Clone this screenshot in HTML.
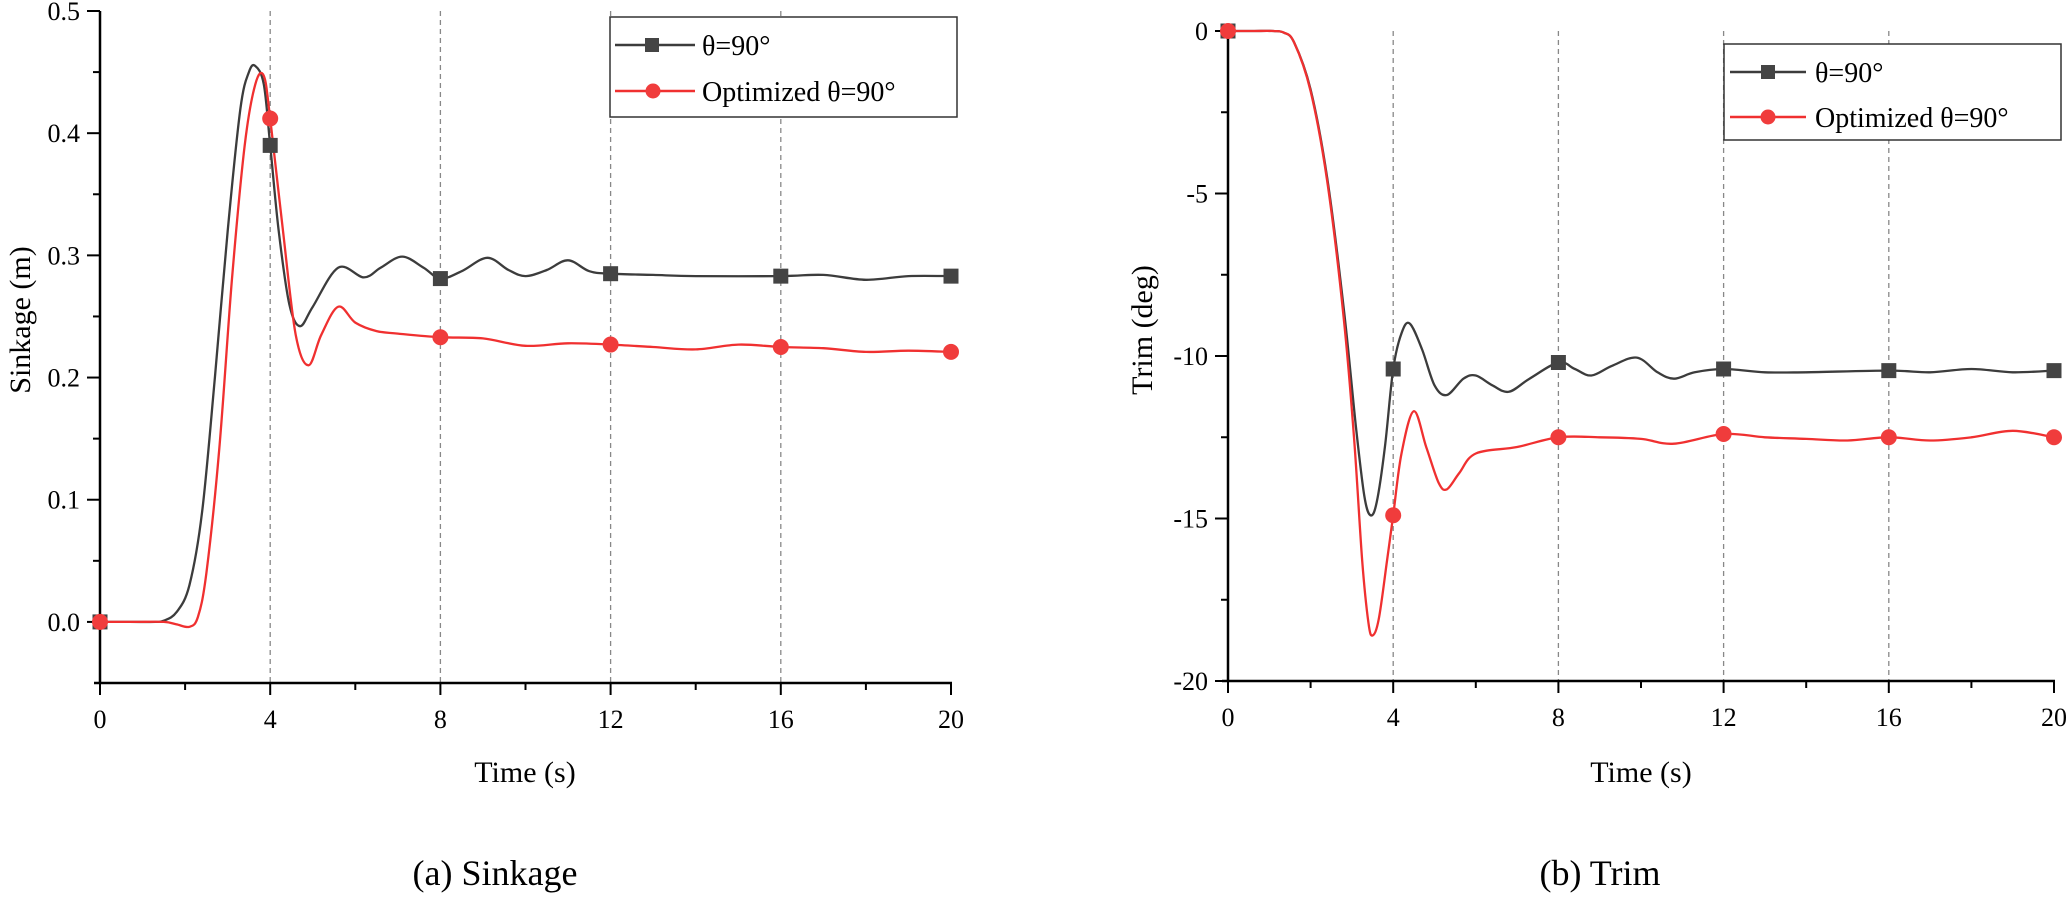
<!DOCTYPE html>
<html><head><meta charset="utf-8"><style>
html,body{margin:0;padding:0;background:#fff;}
svg{display:block;font-family:"Liberation Serif",serif;}
</style></head><body>
<svg id="s" width="2067" height="897" viewBox="0 0 2067 897" xmlns="http://www.w3.org/2000/svg">
<g id="g"></g>
<text x="525" y="782" font-size="30" text-anchor="middle">Time (s)</text>
<text x="495" y="885" font-size="36" text-anchor="middle">(a) Sinkage</text>
<text transform="translate(30,320) rotate(-90)" font-size="30" text-anchor="middle">Sinkage (m)</text>
<text x="1641" y="782" font-size="30" text-anchor="middle">Time (s)</text>
<text x="1600" y="885" font-size="36" text-anchor="middle">(b) Trim</text>
<text transform="translate(1152,330) rotate(-90)" font-size="30" text-anchor="middle">Trim (deg)</text>
<rect x="610" y="17" width="347" height="100" fill="#fff" stroke="#333" stroke-width="1.5"/>
<line x1="615" y1="45" x2="695" y2="45" stroke="#3c3c3c" stroke-width="2.5"/>
<rect x="645" y="38" width="14" height="14" fill="#444"/>
<text x="702" y="55" font-size="28">θ=90°</text>
<line x1="615" y1="91" x2="695" y2="91" stroke="#f03030" stroke-width="2.5"/>
<circle cx="653" cy="91" r="7.5" fill="#f03c3c"/>
<text x="702" y="101" font-size="28">Optimized θ=90°</text>
<rect x="1724" y="44" width="337" height="96" fill="#fff" stroke="#333" stroke-width="1.5"/>
<line x1="1730" y1="72" x2="1806" y2="72" stroke="#3c3c3c" stroke-width="2.5"/>
<rect x="1761" y="65" width="14" height="14" fill="#444"/>
<text x="1815" y="82" font-size="28">θ=90°</text>
<line x1="1730" y1="117" x2="1806" y2="117" stroke="#f03030" stroke-width="2.5"/>
<circle cx="1768" cy="117" r="7.5" fill="#f03c3c"/>
<text x="1815" y="127" font-size="28">Optimized θ=90°</text>
</svg>
<script>
(function(){
var NS="http://www.w3.org/2000/svg",g=document.getElementById('g');
function el(n,a,t){var e=document.createElementNS(NS,n);for(var k in a)e.setAttribute(k,a[k]);if(t!==undefined)e.textContent=t;g.appendChild(e);return e;}
function path(pts,X,Y){var P=pts.map(function(p){return [X(p[0]),Y(p[1])];});var d="M"+P[0][0]+","+P[0][1];
for(var i=0;i<P.length-1;i++){var p0=P[i-1]||P[i],p1=P[i],p2=P[i+1],p3=P[i+2]||P[i+1];
var c1=[p1[0]+(p2[0]-p0[0])/6,p1[1]+(p2[1]-p0[1])/6],c2=[p2[0]-(p3[0]-p1[0])/6,p2[1]-(p3[1]-p1[1])/6];
d+=" C"+c1[0].toFixed(1)+","+c1[1].toFixed(1)+" "+c2[0].toFixed(1)+","+c2[1].toFixed(1)+" "+p2[0].toFixed(1)+","+p2[1].toFixed(1);}
return d;}
function interp(pts,t){for(var i=0;i<pts.length-1;i++){if(t>=pts[i][0]&&t<=pts[i+1][0]){var f=(t-pts[i][0])/(pts[i+1][0]-pts[i][0]);return pts[i][1]+f*(pts[i+1][1]-pts[i][1]);}}return pts[pts.length-1][1];}
function chart(o){
var X=function(t){return o.x0+(o.x1-o.x0)*t/20;},Y=function(v){return o.yb+(o.yt-o.yb)*(v-o.vmin)/(o.vmax-o.vmin);};
[4,8,12,16].forEach(function(t){el('line',{x1:X(t),y1:o.yt,x2:X(t),y2:o.yb,stroke:'#888','stroke-width':1.3,'stroke-dasharray':'5,4'});});
el('line',{x1:o.x0,y1:o.yt,x2:o.x0,y2:o.yb+1,stroke:'#000','stroke-width':2.5});
el('line',{x1:o.x0-6,y1:o.yb,x2:o.x1+1,y2:o.yb,stroke:'#000','stroke-width':2.5});
for(var t=0;t<=20;t+=2){var maj=t%4==0;el('line',{x1:X(t),y1:o.yb,x2:X(t),y2:o.yb+(maj?12:7),stroke:'#000','stroke-width':2});
if(maj)el('text',{x:X(t),y:o.yb+45,'font-size':26,'text-anchor':'middle'},String(t));}
o.yt_ticks.forEach(function(v,i){var maj=i%2==0;var y=Y(v);el('line',{x1:o.x0,y1:y,x2:o.x0-(maj?13:7),y2:y,stroke:'#000','stroke-width':2});
if(maj)el('text',{x:o.x0-20,y:y+9,'font-size':26,'text-anchor':'end'},o.fmt(v));});
o.series.forEach(function(s){el('path',{d:path(s.pts,X,Y),fill:'none',stroke:s.c,'stroke-width':2.3,'stroke-linejoin':'round'});});
o.series.forEach(function(s){[0,4,8,12,16,20].forEach(function(t){var x=X(t),y=Y(interp(s.pts,t));
if(s.m=='sq')el('rect',{x:x-7.5,y:y-7.5,width:15,height:15,fill:'#444'});else el('circle',{cx:x,cy:y,r:8,fill:'#f03c3c'});});});
}
var lb=[[0,0],[0.7,0],[1.3,0],[1.5,0.001],[1.8,0.008],[2.1,0.03],[2.4,0.09],[2.7,0.2],[3.0,0.32],[3.3,0.42],[3.5,0.45],[3.65,0.455],[3.85,0.44],[4,0.39],[4.2,0.32],[4.45,0.26],[4.7,0.242],[5.0,0.258],[5.6,0.29],[6.2,0.282],[6.6,0.29],[7.1,0.299],[7.6,0.29],[8,0.281],[8.5,0.287],[9.1,0.298],[9.6,0.288],[10,0.283],[10.5,0.288],[11,0.296],[11.5,0.287],[12,0.285],[13,0.284],[14,0.283],[16,0.283],[17,0.284],[18,0.28],[19,0.283],[20,0.283]];
var lr=[[0,0],[0.8,0],[1.5,0],[1.8,-0.002],[2.1,-0.004],[2.3,0.004],[2.5,0.04],[2.8,0.14],[3.1,0.28],[3.4,0.39],[3.65,0.44],[3.85,0.447],[4,0.412],[4.3,0.32],[4.6,0.235],[4.9,0.21],[5.2,0.235],[5.6,0.258],[6.0,0.245],[6.5,0.238],[7,0.236],[8,0.233],[9,0.232],[10,0.226],[11,0.228],[12,0.227],[13,0.225],[14,0.223],[15,0.227],[16,0.225],[17,0.224],[18,0.221],[19,0.222],[20,0.221]];
var rb=[[0,0],[0.6,0],[1.1,0],[1.35,-0.05],[1.6,-0.35],[2.0,-1.8],[2.4,-4.5],[2.8,-8.5],[3.1,-12.2],[3.3,-14.3],[3.45,-14.9],[3.6,-14.5],[3.8,-12.8],[4,-10.4],[4.2,-9.3],[4.4,-9.0],[4.7,-9.8],[5.0,-10.9],[5.3,-11.2],[5.7,-10.7],[6.0,-10.6],[6.4,-10.9],[6.8,-11.1],[7.3,-10.7],[8,-10.2],[8.4,-10.4],[8.8,-10.6],[9.3,-10.3],[9.9,-10.05],[10.4,-10.5],[10.8,-10.7],[11.3,-10.5],[12,-10.4],[13,-10.5],[14,-10.5],[16,-10.45],[17,-10.5],[18,-10.4],[19,-10.5],[20,-10.45]];
var rr=[[0,0],[0.6,0],[1.1,0],[1.35,-0.05],[1.6,-0.35],[2.0,-1.85],[2.4,-4.6],[2.8,-8.8],[3.05,-12.5],[3.25,-16.3],[3.4,-18.2],[3.5,-18.6],[3.65,-18.1],[3.85,-16.3],[4,-14.9],[4.2,-13],[4.5,-11.7],[4.8,-12.8],[5.1,-13.9],[5.3,-14.1],[5.6,-13.6],[6,-13],[7,-12.8],[8,-12.5],[9,-12.5],[10,-12.55],[10.8,-12.7],[12,-12.4],[13,-12.5],[14,-12.55],[15,-12.6],[16,-12.5],[17,-12.6],[18,-12.5],[19,-12.3],[20,-12.5]];
chart({x0:100,x1:951,yt:11,yb:683,vmin:-0.05,vmax:0.5,yt_ticks:[0.5,0.45,0.4,0.35,0.3,0.25,0.2,0.15,0.1,0.05,0.0],fmt:function(v){return v.toFixed(1);},
 series:[{pts:lb,c:'#3c3c3c',m:'sq'},{pts:lr,c:'#f03030',m:'c'}]});
chart({x0:1228,x1:2054,yt:31,yb:681,vmin:-20,vmax:0,yt_ticks:[0,-2.5,-5,-7.5,-10,-12.5,-15,-17.5,-20],fmt:function(v){return String(v);},
 series:[{pts:rb,c:'#3c3c3c',m:'sq'},{pts:rr,c:'#f03030',m:'c'}]});
})();
</script>
</body></html>
